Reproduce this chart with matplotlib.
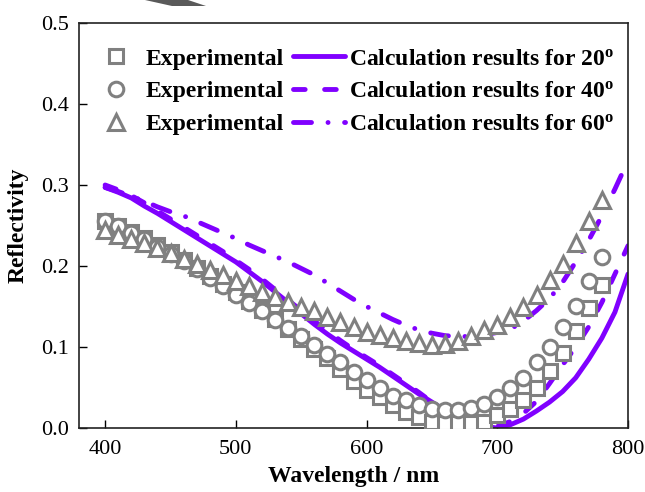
import matplotlib
matplotlib.use("Agg")
import matplotlib.pyplot as plt
from matplotlib.lines import Line2D
from matplotlib.patches import Polygon

# ---------------- data ----------------
wl_exp = [400, 410, 420, 430, 440, 450, 460, 470, 480, 490,
          500, 510, 520, 530, 540, 550, 560, 570, 580, 590,
          600, 610, 620, 630, 640, 650, 660, 670, 680, 690,
          700, 710, 720, 730, 740, 750, 760, 770, 780]
exp_20 = [0.256, 0.249, 0.242, 0.234, 0.226, 0.217, 0.208, 0.198, 0.188, 0.178,
          0.168, 0.157, 0.146, 0.134, 0.122, 0.110, 0.098, 0.086, 0.073, 0.058,
          0.047, 0.038, 0.028, 0.020, 0.014, 0.008, 0.006, 0.006, 0.006, 0.008,
          0.016, 0.023, 0.035, 0.049, 0.070, 0.092, 0.120, 0.148, 0.177]
exp_40 = [0.256, 0.249, 0.241, 0.233, 0.224, 0.215, 0.206, 0.196, 0.185, 0.175,
          0.164, 0.154, 0.144, 0.133, 0.123, 0.113, 0.102, 0.091, 0.081, 0.069,
          0.059, 0.049, 0.040, 0.034, 0.028, 0.024, 0.022, 0.022, 0.025, 0.030,
          0.038, 0.049, 0.062, 0.081, 0.100, 0.125, 0.151, 0.181, 0.211]
exp_60 = [0.244, 0.238, 0.233, 0.228, 0.222, 0.216, 0.209, 0.202, 0.195, 0.189,
          0.182, 0.175, 0.168, 0.162, 0.156, 0.150, 0.144, 0.137, 0.131, 0.125,
          0.119, 0.115, 0.111, 0.107, 0.105, 0.103, 0.104, 0.107, 0.113, 0.121,
          0.127, 0.137, 0.150, 0.164, 0.183, 0.203, 0.228, 0.255, 0.281]

wl_calc = [400, 410, 420, 430, 440, 450, 460, 470, 480, 490,
           500, 510, 520, 530, 540, 550, 560, 570, 580, 590,
           600, 610, 620, 630, 640, 650, 660, 670, 680, 690,
           700, 710, 720, 730, 740, 750, 760, 770, 780, 790, 800]
calc_20 = [0.297, 0.291, 0.284, 0.274, 0.265, 0.255, 0.245, 0.235, 0.225, 0.215,
           0.205, 0.193, 0.181, 0.168, 0.155, 0.141, 0.128, 0.116, 0.105, 0.095,
           0.085, 0.075, 0.064, 0.053, 0.042, 0.032, 0.022, 0.013, 0.006, 0.002,
           0.000, 0.004, 0.011, 0.021, 0.032, 0.045, 0.062, 0.085, 0.111, 0.143, 0.190]
calc_40 = [0.300, 0.294, 0.287, 0.278, 0.268, 0.258, 0.248, 0.238, 0.228, 0.218,
           0.207, 0.196, 0.184, 0.171, 0.158, 0.145, 0.132, 0.120, 0.108, 0.097,
           0.087, 0.077, 0.066, 0.055, 0.044, 0.032, 0.020, 0.010, 0.004, 0.001,
           0.002, 0.008, 0.018, 0.033, 0.055, 0.078, 0.100, 0.125, 0.155, 0.190, 0.225]
calc_60 = [0.297, 0.292, 0.286, 0.280, 0.273, 0.267, 0.262, 0.255, 0.248, 0.241,
           0.234, 0.226, 0.219, 0.212, 0.205, 0.197, 0.189, 0.179, 0.169, 0.159,
           0.150, 0.142, 0.134, 0.127, 0.121, 0.117, 0.114, 0.113, 0.113, 0.115,
           0.118, 0.122, 0.132, 0.145, 0.160, 0.180, 0.205, 0.232, 0.262, 0.295, 0.330]

exp_label = "Experimental"
calc_labels = ["Calculation results for 20$^{\\mathbf{o}}$",
               "Calculation results for 40$^{\\mathbf{o}}$",
               "Calculation results for 60$^{\\mathbf{o}}$"]
x_ticks = [400, 500, 600, 700, 800]
y_ticks = [0.0, 0.1, 0.2, 0.3, 0.4, 0.5]

# ---------------- style ----------------
plt.rcParams['font.family'] = ['Liberation Serif', 'DejaVu Serif']
plt.rcParams['mathtext.fontset'] = 'custom'
plt.rcParams['mathtext.rm'] = 'Liberation Serif'
plt.rcParams['mathtext.bf'] = 'Liberation Serif:bold'
plt.rcParams['mathtext.it'] = 'Liberation Serif:italic'

purple = '#8000ff'
gray = '#808080'
lw = 3.5
dash40 = (2.4, 4.0)
dash60 = (3.7, 3.4, 0.01, 3.4)

fig = plt.figure(figsize=(6.45, 4.92), dpi=100)
ax = fig.add_axes([79/645, 64/492, (628-79)/645, (428-23)/492])

# calculated curves (under markers)
l20, = ax.plot(wl_calc, calc_20, color=purple, lw=lw, ls='-',
               solid_capstyle='round', solid_joinstyle='round', zorder=2)
l40, = ax.plot(wl_calc, calc_40, color=purple, lw=lw,
               dashes=dash40, dash_capstyle='round', zorder=2)
l60, = ax.plot(wl_calc, calc_60, color=purple, lw=lw,
               dashes=dash60, dash_capstyle='round', zorder=2)

mk = dict(ls='none', mfc='white', mec=gray, mew=2.2)
s20, = ax.plot(wl_exp, exp_20, marker='s', ms=10, zorder=3, **mk)
s40, = ax.plot(wl_exp, exp_40, marker='o', ms=10.5, zorder=4, **mk)
s60, = ax.plot(wl_exp, exp_60, marker='^', ms=11, zorder=5, **mk)

ax.set_xlim(380, 800)
ax.set_ylim(0.0, 0.5)
ax.set_xticks(x_ticks)
ax.set_yticks(y_ticks)
ax.set_xticklabels([str(v) for v in x_ticks])
ax.set_yticklabels([f"{v:.1f}" for v in y_ticks])
ax.tick_params(axis='both', direction='in', length=6, width=1.0, labelsize=16,
               top=False, right=False)
ax.tick_params(axis='x', pad=9)
ax.tick_params(axis='y', pad=7)
for sp in ax.spines.values():
    sp.set_linewidth(1.2)
    sp.set_color('#222222')

ax.set_xlabel("Wavelength / nm", fontsize=17, fontweight='bold', labelpad=5)
ax.set_ylabel("Reflectivity", fontsize=17, fontweight='bold', labelpad=9)

# legend handles
h_s = Line2D([], [], marker='s', ms=10, **mk)
h_o = Line2D([], [], marker='o', ms=10.5, **mk)
h_t = Line2D([], [], marker='^', ms=11, **mk)
h_l20 = Line2D([], [], color=purple, lw=lw, ls='-', solid_capstyle='round')
h_l40 = Line2D([], [], color=purple, lw=lw, dashes=dash40, dash_capstyle='round')
h_l60 = Line2D([], [], color=purple, lw=lw, dashes=dash60, dash_capstyle='round')

leg = ax.legend([h_s, h_o, h_t, h_l20, h_l40, h_l60],
                [exp_label, exp_label, exp_label] + calc_labels,
                ncol=2, loc='upper left',
                bbox_to_anchor=((90-79)/549, (428-48)/405),
                frameon=False, borderpad=0, borderaxespad=0,
                handlelength=2.2, handletextpad=0.15, columnspacing=0.4,
                labelspacing=0.48,
                prop={'family': 'Liberation Serif', 'weight': 'bold', 'size': 17})

# grey cropped artifact at the top edge of the image
fig.patches.append(Polygon([(145/645, 1.0), (188/645, 1.0), (206/645, 486/492),
                            (172/645, 486/492)], closed=True,
                           transform=fig.transFigure, facecolor='#5a5a5a',
                           edgecolor='none'))

fig.savefig("out.png", dpi=100)
